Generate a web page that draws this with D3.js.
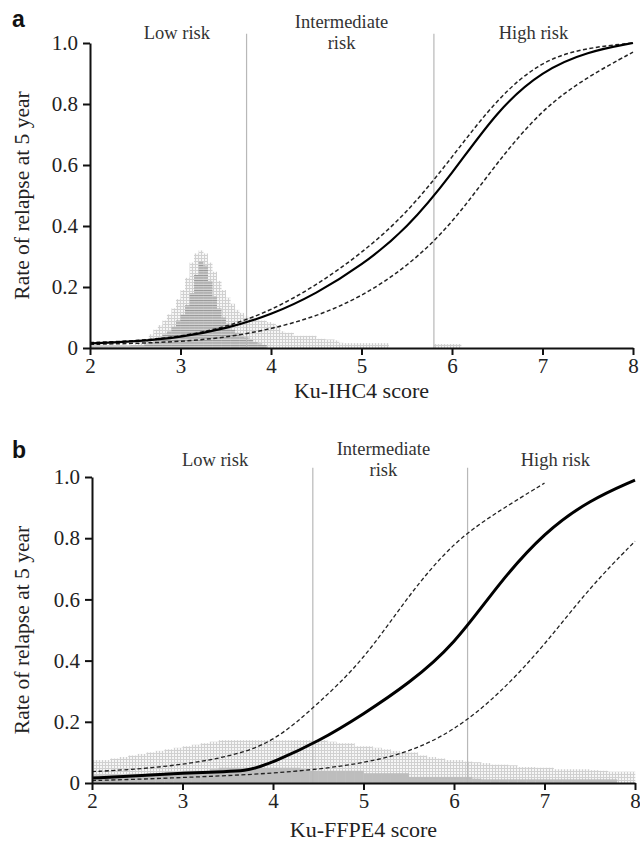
<!DOCTYPE html>
<html>
<head>
<meta charset="utf-8">
<script src="https://cdn.jsdelivr.net/npm/d3@7"></script>
<style>
	body { margin: 0; background: #fff; }
	text { font-family: 'Liberation Serif', 'Times New Roman', serif; fill: #222; }
	text.letter { font-family: 'Liberation Sans', Arial, sans-serif; font-weight: bold; fill: #111; }
	.axis path, .axis line { stroke: #111; stroke-width: 2px; }
	.axis text { font-family: 'Liberation Serif', serif; font-size: 21px; fill: #222; }
</style>
</head>
<body>
<script>
// shared
var xTicks = [2, 3, 4, 5, 6, 7, 8];
var yTicks = [0, 0.2, 0.4, 0.6, 0.8, 1.0];
var riskLabels = [['Low risk'], ['Intermediate', 'risk'], ['High risk']];

// panel a : Ku-IHC4
var aScores = [2, 2.5, 3, 3.5, 4, 4.5, 5, 5.5, 6, 6.5, 7, 7.5, 8];
var aFit   = [0.015, 0.021, 0.035, 0.063, 0.108, 0.178, 0.27, 0.39, 0.57, 0.78, 0.91, 0.972, 1.0];
var aUpper = [0.018, 0.023, 0.037, 0.068, 0.122, 0.205, 0.31, 0.44, 0.625, 0.82, 0.945, 0.985, 1.0];
var aLower = [0.012, 0.015, 0.021, 0.034, 0.062, 0.103, 0.168, 0.265, 0.405, 0.61, 0.785, 0.89, 0.97];
var aCutoffs = [3.73, 5.8];
var aLightStart = 2.40, aLightWidth = 0.05;
var aLight = [0.005, 0.01, 0.015, 0.02, 0.03, 0.045, 0.06, 0.075, 0.09, 0.11,
	0.13, 0.16, 0.19, 0.23, 0.28, 0.31, 0.32, 0.31, 0.28, 0.25,
	0.22, 0.19, 0.165, 0.145, 0.125, 0.115, 0.105, 0.1, 0.095, 0.09,
	0.09, 0.085, 0.08, 0.075, 0.055, 0.05, 0.05, 0.04, 0.04, 0.04,
	0.04, 0.04, 0.03, 0.03, 0.028, 0.028, 0.025, 0.017,
	0.016, 0.016, 0.016, 0.016, 0.016, 0.016, 0.016, 0.016, 0.016, 0.016,
	0, 0, 0, 0, 0, 0, 0, 0, 0, 0,
	0.013, 0.013, 0.013, 0.013, 0.013, 0.013];
var aDarkStart = 2.00, aDarkWidth = 0.05;
var aDark = [0.008, 0.008, 0.008, 0.008, 0.008, 0.008, 0.008, 0.008, 0.008, 0.008, 0.008, 0.008,
	0.015, 0.02, 0.025, 0.035, 0.045, 0.055, 0.07, 0.09, 0.11, 0.14,
	0.18, 0.24, 0.285, 0.27, 0.22, 0.17, 0.13, 0.1, 0.08, 0.06,
	0.05, 0.04, 0.035, 0.03, 0.02, 0.015, 0.01];

// panel b : Ku-FFPE4
var bScores = [2, 2.5, 3, 3.5, 3.7, 3.8, 4, 4.5, 5, 5.5, 6, 6.5, 7, 7.5, 8];
var bFit   = [0.016, 0.024, 0.032, 0.037, 0.041, 0.048, 0.068, 0.135, 0.225, 0.325, 0.45, 0.655, 0.82, 0.925, 0.99];
var bUpperScores = [2, 2.5, 3, 3.5, 4, 4.5, 5, 5.5, 6, 6.5, 7];
var bUpper = [0.037, 0.045, 0.06, 0.085, 0.13, 0.26, 0.40, 0.615, 0.79, 0.89, 0.98];
var bLowerScores = [2, 2.5, 3, 3.5, 4, 4.5, 5, 5.5, 6, 6.5, 7, 7.5, 8];
var bLower = [0.008, 0.012, 0.018, 0.024, 0.032, 0.045, 0.065, 0.10, 0.17, 0.29, 0.45, 0.64, 0.79];
var bCutoffs = [4.44, 6.15];
var bLightStart = 2.0, bLightWidth = 0.1;
var bLight = [0.075, 0.075, 0.08, 0.085, 0.09, 0.095, 0.10, 0.105, 0.11, 0.115,
	0.12, 0.125, 0.13, 0.135, 0.14, 0.14, 0.14, 0.14, 0.14, 0.14,
	0.14, 0.14, 0.14, 0.14, 0.14, 0.14, 0.135, 0.13, 0.13, 0.12,
	0.12, 0.115, 0.11, 0.105, 0.10, 0.10, 0.09, 0.085, 0.08, 0.075,
	0.075, 0.07, 0.068, 0.065, 0.06, 0.06, 0.058, 0.052, 0.052, 0.05,
	0.05, 0.045, 0.045, 0.045, 0.045, 0.042, 0.04, 0.037, 0.037, 0.037];
var bDarkStart = 2.0, bDarkWidth = 0.1;
var bDark = [0.025, 0.025, 0.027, 0.028, 0.03, 0.03, 0.032, 0.033, 0.035, 0.035,
	0.04, 0.04, 0.04, 0.045, 0.05, 0.05, 0.05, 0.05, 0.05, 0.05,
	0.05, 0.05, 0.05, 0.045, 0.04, 0.04, 0.04, 0.04, 0.04, 0.04,
	0.032, 0.032, 0.032, 0.032, 0.032, 0.02, 0.02, 0.02, 0.02, 0.02,
	0.02, 0.02, 0.014, 0.012, 0.012, 0.012, 0.012, 0.012, 0.012, 0.012,
	0.012, 0.012, 0.012, 0.012, 0.012, 0.012, 0.012, 0.012];

var svg = d3.select('body')
	.append('svg')
	.attr('width', 640)
	.attr('height', 842);

// fill patterns for the two histograms
var defs = svg.append('defs');
var grid = defs.append('pattern')
	.attr('id', 'lightGrid')
	.attr('patternUnits', 'userSpaceOnUse')
	.attr('width', 3).attr('height', 3);
grid.append('rect').attr('width', 3).attr('height', 3).attr('fill', '#f6f6f6');
grid.append('path').attr('d', 'M0,0.5H3M0.5,0V3').attr('stroke', '#d0d0d0').attr('stroke-width', 1);

var hatch = defs.append('pattern')
	.attr('id', 'darkLines')
	.attr('patternUnits', 'userSpaceOnUse')
	.attr('width', 3).attr('height', 2.5);
hatch.append('rect').attr('width', 3).attr('height', 2.5).attr('fill', '#d2d2d2');
hatch.append('path').attr('d', 'M0,0.5H3').attr('stroke', '#959595').attr('stroke-width', 1);

function bins (start, width, values) {
	return values.map(function (v, i) {
		return { x0: start + i * width, x1: start + (i + 1) * width, v: v };
	});
}

function pairs (xs, ys) {
	return xs.map(function (x, i) { return [x, ys[i]]; });
}

function draw_panel (p) {
	var x = d3.scaleLinear().domain([2, 8]).range([p.left, p.right]);
	var y = d3.scaleLinear().domain([0, 1]).range([p.bottom, p.top]);
	var g = svg.append('g');

	// histograms
	[{ data: p.light, fill: 'url(#lightGrid)' }, { data: p.dark, fill: p.darkFill }].forEach(function (h) {
		g.append('g')
			.selectAll('rect')
			.data(h.data.filter(function (d) { return d.v > 0; }))
			.join('rect')
			.attr('x', function (d) { return x(d.x0); })
			.attr('width', function (d) { return x(d.x1) - x(d.x0) + 0.3; })
			.attr('y', function (d) { return y(d.v); })
			.attr('height', function (d) { return y(0) - y(d.v); })
			.attr('fill', h.fill);
	});

	// cut-off lines
	g.selectAll('.cut')
		.data(p.cutoffs)
		.join('line')
		.attr('class', 'cut')
		.attr('x1', function (d) { return x(d); })
		.attr('x2', function (d) { return x(d); })
		.attr('y1', y(1.03))
		.attr('y2', y(0))
		.attr('stroke', '#b8b8b8')
		.attr('stroke-width', 1.2);

	// curves (b-spline through the read-off points)
	var line = d3.line()
		.curve(d3.curveBasis)
		.x(function (d) { return x(d[0]); })
		.y(function (d) { return y(d[1]); });

	[p.upper, p.lower].forEach(function (c) {
		g.append('path')
			.datum(c)
			.attr('d', line)
			.attr('fill', 'none')
			.attr('stroke', '#222')
			.attr('stroke-width', p.dashWidth)
			.attr('stroke-dasharray', '4,2.5');
	});
	g.append('path')
		.datum(p.fit)
		.attr('d', line)
		.attr('fill', 'none')
		.attr('stroke', '#000')
		.attr('stroke-width', p.fitWidth);

	// axes
	var x_axis = d3.axisBottom(x)
		.tickValues(xTicks)
		.tickFormat(d3.format('d'))
		.tickSize(7)
		.tickSizeOuter(0)
		.tickPadding(3);
	var y_axis = d3.axisLeft(y)
		.tickValues(yTicks)
		.tickFormat(function (d) { return d === 0 ? '0' : d3.format('.1f')(d); })
		.tickSize(7)
		.tickSizeOuter(0)
		.tickPadding(5);

	g.append('g')
		.attr('class', 'axis')
		.attr('transform', 'translate(0,' + y(0) + ')')
		.call(x_axis);
	g.append('g')
		.attr('class', 'axis')
		.attr('transform', 'translate(' + x(2) + ',0)')
		.call(y_axis);

	// risk group labels
	riskLabels.forEach(function (lines, i) {
		var t = g.append('text')
			.attr('text-anchor', 'middle')
			.attr('font-size', 18.5)
			.style('fill', '#333');
		lines.forEach(function (s, j) {
			t.append('tspan')
				.attr('x', x(p.labelAt[i]))
				.attr('y', (lines.length > 1 ? p.labelTop2 : p.labelTop) + j * 21)
				.text(s);
		});
	});

	// titles
	g.append('text')
		.attr('x', (x(2) + x(8)) / 2)
		.attr('y', p.bottom + p.xTitleGap)
		.attr('text-anchor', 'middle')
		.attr('font-size', 22)
		.text(p.xTitle);
	g.append('text')
		.attr('transform', 'translate(29,' + (p.top + p.bottom) / 2 + ') rotate(-90)')
		.attr('text-anchor', 'middle')
		.attr('font-size', 21.5)
		.text('Rate of relapse at 5 year');
	g.append('text')
		.attr('class', 'letter')
		.attr('x', 12)
		.attr('y', p.letterY)
		.attr('font-size', 23)
		.text(p.letter);
}

draw_panel({
	letter: 'a', letterY: 27,
	left: 90, right: 633, top: 43, bottom: 348,
	fit: pairs(aScores, aFit),
	upper: pairs(aScores, aUpper),
	lower: pairs(aScores, aLower),
	light: bins(aLightStart, aLightWidth, aLight),
	dark: bins(aDarkStart, aDarkWidth, aDark),
	darkFill: 'url(#darkLines)',
	cutoffs: aCutoffs,
	fitWidth: 2.2, dashWidth: 1.5,
	labelAt: [2.96, 4.78, 6.9], labelTop: 39, labelTop2: 28,
	xTitle: 'Ku-IHC4 score', xTitleGap: 50
});

draw_panel({
	letter: 'b', letterY: 458,
	left: 92, right: 635, top: 477, bottom: 783,
	fit: pairs(bScores, bFit),
	upper: pairs(bUpperScores, bUpper),
	lower: pairs(bLowerScores, bLower),
	light: bins(bLightStart, bLightWidth, bLight),
	dark: bins(bDarkStart, bDarkWidth, bDark),
	darkFill: '#bdbdbd',
	cutoffs: bCutoffs,
	fitWidth: 3, dashWidth: 1.3,
	labelAt: [3.36, 5.22, 7.12], labelTop: 466, labelTop2: 455,
	xTitle: 'Ku-FFPE4 score', xTitleGap: 54
});
</script>
</body>
</html>
